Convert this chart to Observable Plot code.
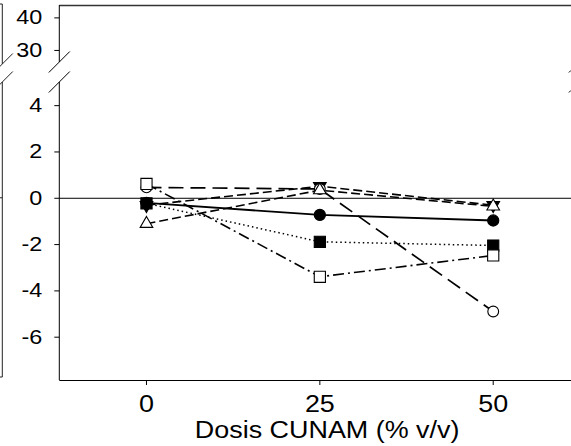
<!DOCTYPE html>
<html><head><meta charset="utf-8">
<script src="https://cdn.jsdelivr.net/npm/d3@7"></script>
<script src="https://cdn.jsdelivr.net/npm/@observablehq/plot@0.6"></script>
<style>html,body{margin:0;padding:0;background:#fff;overflow:hidden}</style>
</head><body><div id="chart"></div>
<script>
// ---- data ----
const doses = [0, 25, 50];
const xTicks = [0, 25, 50];
const yTicks = [-6, -4, -2, 0, 2, 4, 30, 40];
const xTitle = "Dosis CUNAM (% v/v)";
const xDomain = [-12.5, 62.5];
const yLower = [-7.87, 5];      // lower (zoomed) segment of the broken axis
const yUpper = [26.3, 43.8];    // upper segment of the broken axis
const filledCircle   = [-0.20, -0.72, -0.96];
const filledSquare   = [-0.22, -1.88, -2.04];
const openSquare     = [0.62, -3.39, -2.47];
const openCircle     = [0.47, 0.40, -4.89];
const openTriangle   = [-1.10, 0.35, -0.35];
const filledTriangle = [-0.30, 0.52, -0.30];

// ---- styling ----
const W = 571, H = 446, ML = 59.3, MT = 5, MB = 66;
const downTriangle = {
  draw(context, size) {
    const y = -Math.sqrt(size / (Math.sqrt(3) * 3));
    context.moveTo(0, -y * 2);
    context.lineTo(-Math.sqrt(3) * y, y);
    context.lineTo(Math.sqrt(3) * y, y);
    context.closePath();
  }
};
const series = [
  {key: "filledTriangle", values: filledTriangle, symbol: downTriangle, fill: "#000", dash: "9,4", r: 4.7, lw: 1.6},
  {key: "filledSquare", values: filledSquare, symbol: "square", fill: "#000", dash: "1.5,3", r: 6.3, lw: 1.5},
  {key: "filledCircle", values: filledCircle, symbol: "circle", fill: "#000", dash: null, r: 5.6, lw: 1.8},
  {key: "openCircle", values: openCircle, symbol: "circle", fill: "#fff", dash: "15,7", r: 5.4, lw: 1.7},
  {key: "openSquare", values: openSquare, symbol: "square", fill: "#fff", dash: "11,4,2,4", r: 6.3, lw: 1.6},
  {key: "openTriangle", values: openTriangle, symbol: "triangle", fill: "#fff", dash: "9,4", r: 4.7, lw: 1.6}
];
const rows = s => doses.map((d, i) => ({dose: d, value: s.values[i]}));

function decorations(index, scales, values, dims) {
  const x = scales.x, y = scales.y;
  const right = dims.width;
  const g = d3.create("svg:g").attr("fill", "none").attr("stroke", "#000");
  const x0 = x(xDomain[0]), x1 = x(xDomain[1]);
  const yb = y(yLower[0]), yl = y(yLower[1]), yu = y(yUpper[0]), yt = y(yUpper[1]);
  // line clipped to the visible width
  const seg = (sel, ax, ay, bx, by) => {
    if (ax > right) return;
    if (bx > right) { by = ay + (by - ay) * (right - ax) / (bx - ax); bx = right; }
    sel.append("line").attr("x1", ax).attr("y1", ay).attr("x2", bx).attr("y2", by);
  };
  const m = g.append("g").attr("stroke-width", 1);
  // broken left axis, and break marks on it and on the (cropped) right border
  seg(m, x0, yb, x0, yl); seg(m, x0, yu, x0, yt);
  for (const xx of [x0, x1]) for (const yy of [yl, yu]) seg(m, xx - 10.5, yy + 10.5, xx + 10.5, yy - 10.5);
  // right border of the neighbouring (cropped) panel at the left edge
  const xp = x0 - 57;
  const p = g.append("g").attr("stroke", "#222").attr("stroke-width", 1);
  seg(p, xp, yt - 1, xp, yu + 2);
  seg(p, xp, yl, xp, yb - 3);
  seg(p, 0, yt - 1, xp, yt - 1);
  seg(p, 0, yb - 3, xp, yb - 3);
  seg(p, 0, y(0), xp, y(0));
  seg(p, xp - 10.5, yu + 12.5, xp + 10.5, yu - 8.5);
  seg(p, xp - 10.5, yl + 10.5, xp + 10.5, yl - 10.5);
  return g.node();
}

const marks = [
  // frame: top border, bottom axis line, zero reference line
  Plot.ruleY([yUpper[1]], {x1: xDomain[0], x2: xDomain[1], stroke: "#333", strokeWidth: 1.6}),
  Plot.ruleY([yLower[0]], {x1: xDomain[0], x2: xDomain[1], stroke: "#000", strokeWidth: 1.2}),
  Plot.ruleY([0], {x1: xDomain[0], x2: xDomain[1], stroke: "#000", strokeWidth: 1}),
  decorations,
  Plot.axisY({ticks: yTicks, tickSize: 5, tickPadding: 12.6, fontSize: 20, tickFormat: d => String(d), label: null}),
  Plot.axisX({ticks: xTicks, tickSize: 5, tickPadding: 10, fontSize: 23, tickFormat: d => String(d), label: null}),
  Plot.text([xTitle], {frameAnchor: "bottom", dx: 11.5, dy: 41, lineAnchor: "top", fontSize: 23, fill: "#000"})
];
for (const s of series) {
  marks.push(Plot.line(rows(s), {x: "dose", y: "value", stroke: "#000", strokeWidth: s.lw,
    strokeDasharray: s.dash || undefined, strokeLinecap: "butt"}));
}
for (const s of series) {
  marks.push(Plot.dot(rows(s), {x: "dose", y: "value", symbol: () => s.symbol, r: s.r,
    fill: s.fill, stroke: "#000", strokeWidth: 1.1}));
}

const chart = Plot.plot({
  width: W, height: H,
  marginLeft: ML, marginRight: 0, marginTop: MT, marginBottom: MB,
  style: {fontFamily: "'Liberation Sans', Arial, sans-serif", background: "#fff", color: "#000", overflow: "hidden"},
  x: {type: "linear", domain: xDomain, range: [ML, 579.4]},
  y: {type: "linear", domain: [yLower[0], yLower[1], yUpper[0], yUpper[1]], range: [H - MB, 82, 62, MT]},
  symbol: {type: "identity"},
  marks
});
document.getElementById("chart").appendChild(chart);

// the reference's lettering is horizontally stretched; widen glyphs to match
const stretch = 1.17;
for (const t of chart.querySelectorAll("text")) {
  const len = t.getComputedTextLength();
  if (len > 0) {
    t.setAttribute("textLength", (len * stretch).toFixed(1));
    t.setAttribute("lengthAdjust", "spacingAndGlyphs");
  }
}
</script>
</body></html>
